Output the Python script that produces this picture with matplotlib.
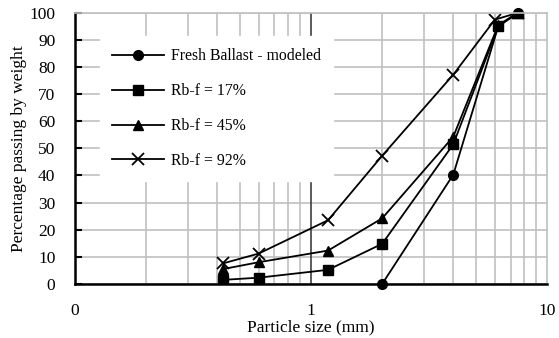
import numpy as np
import matplotlib.pyplot as plt
from matplotlib.ticker import FixedLocator, FuncFormatter

plt.rcParams['font.family'] = ['Liberation Serif', 'DejaVu Serif']

# particle sizes (mm) and percent passing
size_fresh = [2.0, 4.0, 6.2, 7.5]
pass_fresh = [0, 40.3, 95, 100]

size_rb = [0.425, 0.6, 1.18, 2.0, 4.0, 6.2, 7.5]
pass_17 = [1.5, 2.3, 5.2, 14.8, 51.5, 95, 100]
pass_45 = [5.5, 8.0, 12.3, 24.2, 54.3, 95.5, 100]
size_92 = [0.425, 0.6, 1.18, 2.0, 4.0, 6.0, 7.5]
pass_92 = [7.6, 11.2, 23.5, 47.3, 77.2, 97.5, 100]

fig = plt.figure(figsize=(5.59, 3.38), dpi=100)
ax = fig.add_axes([0.134, 0.16, 0.845, 0.802])

ax.plot(size_fresh, pass_fresh, 'k-', marker='o', ms=7, lw=1.3, clip_on=False,
        label='Fresh Ballast - modeled')
ax.plot(size_rb, pass_17, 'k-', marker='s', ms=6.5, lw=1.3, label='Rb-f = 17%')
ax.plot(size_rb, pass_45, 'k-', marker='^', ms=6.5, lw=1.3, label='Rb-f = 45%')
ax.plot(size_92, pass_92, 'k-', marker='x', ms=8, mew=1.3, lw=1.3,
        label='Rb-f = 92%')

ax.set_xscale('log')
ax.set_xlim(0.1, 10)
ax.set_ylim(0, 100)
ax.set_yticks(np.arange(0, 101, 10))
ax.xaxis.set_major_locator(FixedLocator([0.1, 1, 10]))
ax.xaxis.set_major_formatter(FuncFormatter(lambda v, p: '%d' % v))
ax.xaxis.set_minor_locator(FixedLocator([m * d for d in (0.1, 1) for m in range(2, 10)]))

ax.grid(True, which='major', axis='y', color='#c0c0c0', lw=1.2)
ax.grid(True, which='minor', axis='x', color='#c0c0c0', lw=1.2)
ax.axvline(1, color='#404040', lw=1.2, zorder=1)
ax.set_axisbelow(True)

for s in ('top', 'right'):
    ax.spines[s].set_color('#c0c0c0')
    ax.spines[s].set_linewidth(1.2)
for s in ('left', 'bottom'):
    ax.spines[s].set_linewidth(1.8)

ax.tick_params(axis='x', which='both', direction='in', length=0, labelsize=12.5, pad=14)
ax.tick_params(axis='y', length=5, width=1.5, direction='in', labelsize=12.5, pad=14)

ax.set_xlabel('Particle size (mm)', fontsize=12.5, labelpad=0)
ax.set_ylabel('Percentage passing by weight', fontsize=12.5, labelpad=2)

leg = ax.legend(loc='upper left', bbox_to_anchor=(0.053, 0.915), fontsize=11.3,
                frameon=True, fancybox=False, edgecolor='white', framealpha=1,
                handlelength=3.25, handletextpad=0.45, labelspacing=1.2,
                borderpad=0.8, borderaxespad=0)

fig.savefig('out.png', dpi=100)
